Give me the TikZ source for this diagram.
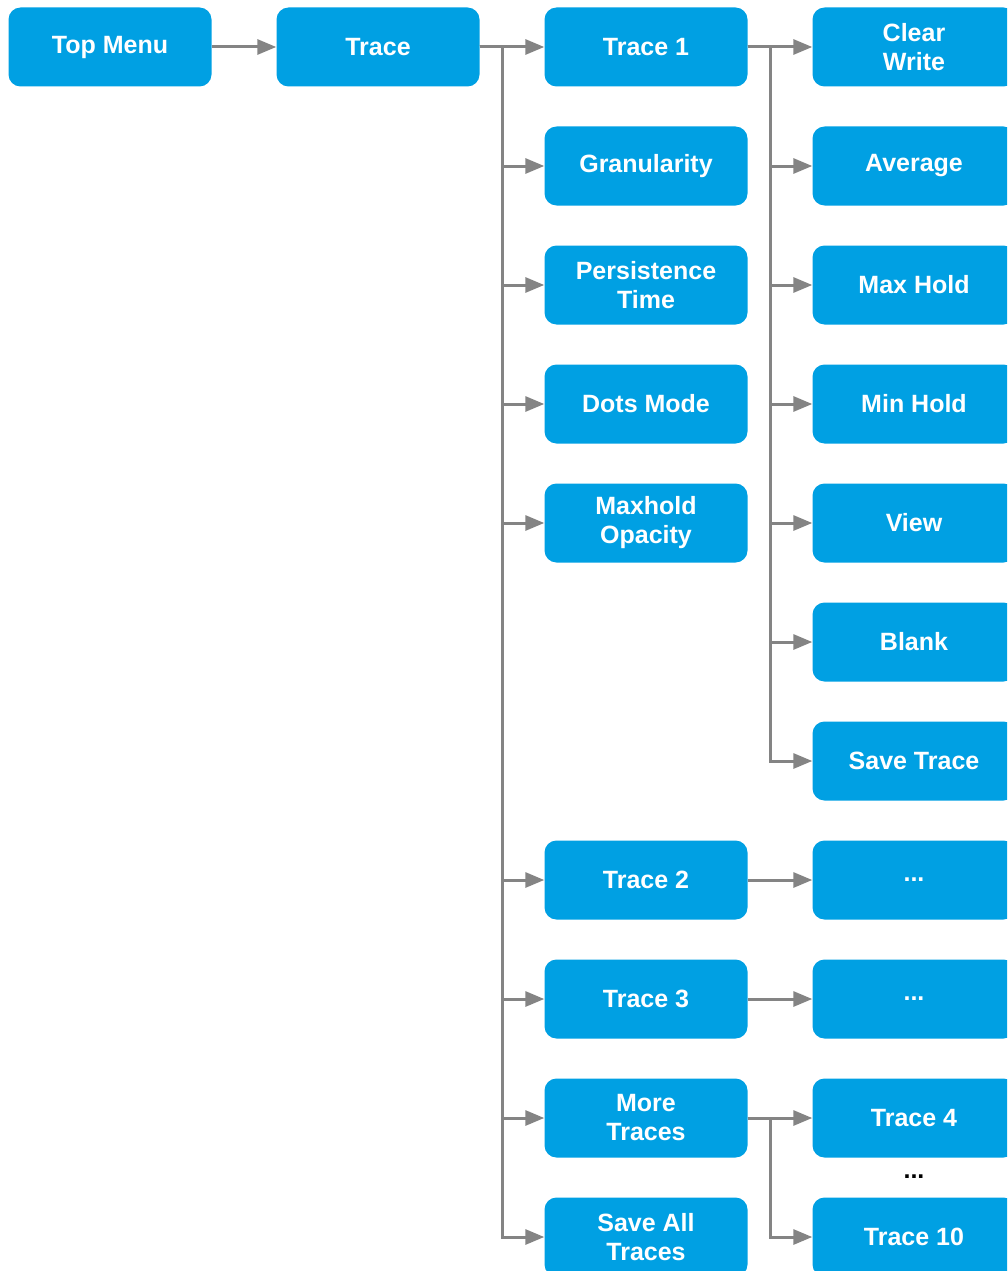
\documentclass[tikz,border=0pt]{standalone}
\usepackage{fontspec}
\setmainfont{Liberation Sans}
\usepackage{tikz}
\usetikzlibrary{shapes.geometric, arrows.meta}
\definecolor{menublue}{HTML}{00A0E3}
\definecolor{linegray}{HTML}{848484}
\tikzstyle{rec} = [rectangle, rounded corners=12pt, minimum width=203pt, minimum height=79pt, text centered, align=center, fill=menublue, text=white, font=\fontsize{25}{29}\selectfont\bfseries]
\tikzstyle{arrow} = [line width=3pt, draw=linegray, -{Triangle[length=19pt,width=15pt]}]

\begin{document}
\begin{tikzpicture}[node distance=268pt]
        \useasboundingbox (0,0) rectangle (1007pt,-1271pt);
        \clip (0,0) rectangle (1007pt,-1271pt);
        % first row
        \node (top) [rec] at (110pt,-47pt) {Top Menu};
        \node (trace) [rec, right of=top] {Trace};
        \node (trace1) [rec, right of=trace] {Trace 1};
        \node (clear) [rec, right of=trace1] {Clear\\Write};
        % trace settings
        \node (gran) [rec, below of=trace1, node distance=119pt] {Granularity};
        \node (persist) [rec, below of=gran, node distance=119pt] {Persistence\\Time};
        \node (dotsmode) [rec, below of=persist, node distance=119pt] {Dots Mode};
        \node (maxop) [rec, below of=dotsmode, node distance=119pt] {Maxhold\\Opacity};
        \node (trace2) [rec, below of=maxop, node distance=357pt] {Trace 2};
        \node (trace3) [rec, below of=trace2, node distance=119pt] {Trace 3};
        \node (more) [rec, below of=trace3, node distance=119pt] {More\\Traces};
        \node (saveall) [rec, below of=more, node distance=119pt] {Save All\\Traces};
        % trace 1 modes
        \node (average) [rec, below of=clear, node distance=119pt] {Average};
        \node (maxhold) [rec, below of=average, node distance=119pt] {Max Hold};
        \node (minhold) [rec, below of=maxhold, node distance=119pt] {Min Hold};
        \node (view) [rec, below of=minhold, node distance=119pt] {View};
        \node (blank) [rec, below of=view, node distance=119pt] {Blank};
        \node (savetrace) [rec, below of=blank, node distance=119pt] {Save Trace};
        \node (etc2) [rec, right of=trace2] {...};
        \node (etc3) [rec, right of=trace3] {...};
        \node (trace4) [rec, right of=more] {Trace 4};
        \node (trace10) [rec, right of=saveall] {Trace 10};
        \node (gap) [below of=trace4, node distance=59pt, font=\fontsize{25}{29}\selectfont\bfseries] {...};
        % connectors
        \coordinate (tj) at ([xshift=23pt]trace.east);
        \coordinate (tk) at ([xshift=23pt]trace1.east);
        \coordinate (tm) at ([xshift=23pt]more.east);
        \draw [arrow] (top) -- (trace);
        \foreach \n in {trace1,gran,persist,dotsmode,maxop,trace2,trace3,more,saveall}
            \draw [arrow] (trace.east) -- (tj) |- (\n.west);
        \foreach \n in {clear,average,maxhold,minhold,view,blank,savetrace}
            \draw [arrow] (trace1.east) -- (tk) |- (\n.west);
        \draw [arrow] (trace2) -- (etc2);
        \draw [arrow] (trace3) -- (etc3);
        \draw [arrow] (more.east) -- (tm) |- (trace4.west);
        \draw [arrow] (more.east) -- (tm) |- (trace10.west);
    \end{tikzpicture}
\end{document}
